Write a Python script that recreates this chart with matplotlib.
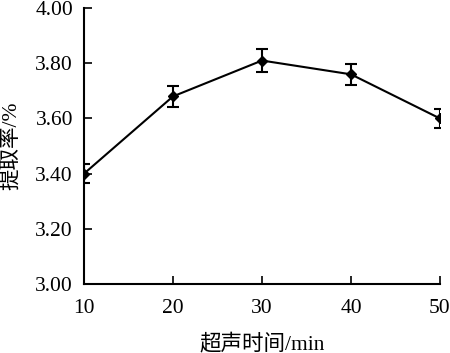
import matplotlib.pyplot as plt

# ultrasonic time (min) vs extraction rate (%)
times = [10, 20, 30, 40, 50]
rate = [3.40, 3.68, 3.81, 3.76, 3.60]
err = [0.035, 0.038, 0.040, 0.038, 0.033]
yticks = [3.00, 3.20, 3.40, 3.60, 3.80, 4.00]

plt.rcParams['font.family'] = ['Liberation Serif', 'Noto Sans CJK SC']
plt.rcParams['font.size'] = 15.5

fig = plt.figure(figsize=(4.5, 3.53), dpi=100)
ax = fig.add_axes([0.1867, 0.1955, 0.791, 0.7815])

ax.errorbar(times, rate, yerr=err, color='black', lw=1.5, marker='D', ms=5.5,
            capsize=4, capthick=1.5, elinewidth=1.5)

ax.set_xlim(10, 50)
ax.set_ylim(3.0, 4.0)
ax.set_xticks(times)
ax.set_yticks(yticks)
ax.set_yticklabels(['%.2f' % v for v in yticks])
ax.tick_params(direction='in', length=6, width=1.2, pad=8)
ax.tick_params(axis='x', pad=11)
for s in ['top', 'right']:
    ax.spines[s].set_visible(False)
for s in ['left', 'bottom']:
    ax.spines[s].set_linewidth(1.5)

ax.set_xlabel('超声时间/min', labelpad=11)
ax.set_ylabel('提取率/%', labelpad=10)

fig.savefig('out.png')
